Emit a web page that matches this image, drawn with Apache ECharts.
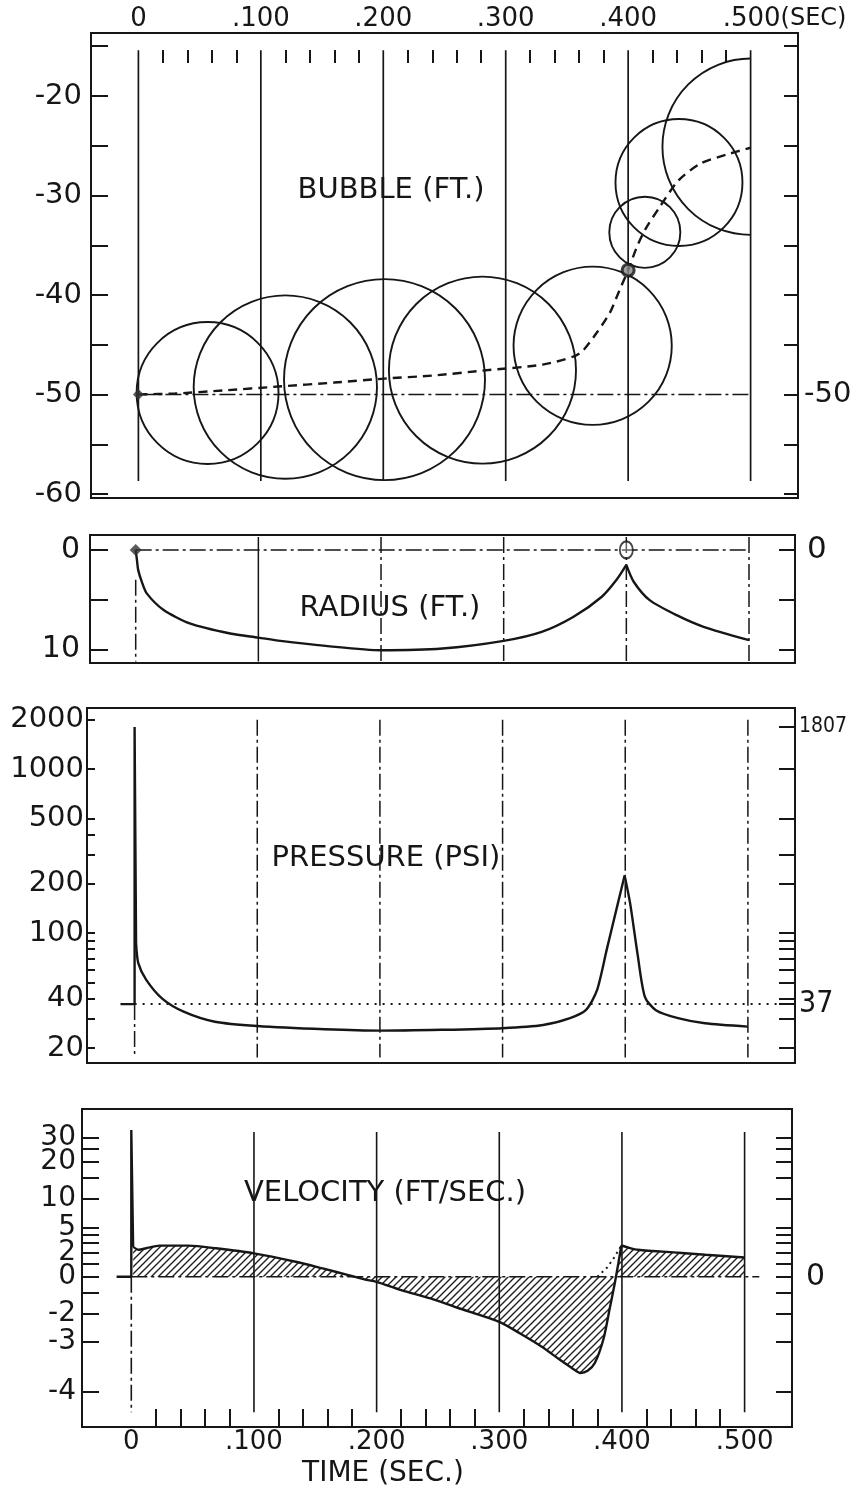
<!DOCTYPE html>
<html><head><meta charset="utf-8">
<script src="https://cdn.jsdelivr.net/npm/echarts@6/dist/echarts.min.js"></script>
<style>html,body{margin:0;padding:0;background:#fff}#c{width:851px;height:1486px}</style>
</head><body><div id="c"></div>
<script>
// ---------------- DATA ----------------
const TIME_MAJOR = [0, 0.1, 0.2, 0.3, 0.4, 0.5];
const TIME_LABELS = ['0', '.100', '.200', '.300', '.400', '.500'];
const TIME_UNIT = '(SEC)';
const TIME_TITLE = 'TIME (SEC.)';
const TIME_MINOR = [0.02,0.04,0.06,0.08,0.12,0.14,0.16,0.18,0.22,0.24,0.26,0.28,0.32,0.34,0.36,0.38,0.42,0.44,0.46,0.48];

// Bubble panel (depth, ft)
const DEPTH_LABELS = [-20, -30, -40, -50, -60];
const DEPTH_TICKS = [-15, -20, -25, -30, -35, -40, -45, -50, -55, -60];
const DEPTH_RIGHT_LABELS = [-50];
const START_DEPTH = -50;
const CENTER_T = [0, 0.03, 0.069, 0.114, 0.16, 0.201, 0.24, 0.281, 0.33, 0.355, 0.363, 0.374, 0.385, 0.393, 0.4, 0.407, 0.414, 0.4255, 0.441, 0.459, 0.48, 0.5];
const CENTER_Z = [-50, -49.9, -49.6, -49.2, -48.8, -48.4, -48.1, -47.6, -47.0, -46.2, -45.6, -43.85, -41.8, -39.5, -37.5, -35.2, -33.4, -31.2, -28.5, -26.8, -25.9, -25.2];
const BUBBLE_T = [0.0565, 0.12, 0.201, 0.281, 0.371, 0.4136, 0.4415, 0.5];
const BUBBLE_Z = [-49.85, -49.25, -48.5, -47.55, -45.1, -33.7, -28.7, -25.1];
const BUBBLE_R = [7.13, 9.21, 10.1, 9.4, 7.95, 3.57, 6.38, 8.86];
const MARK_T = [0, 0.4];

// Radius panel (ft)
const RADIUS_LABELS = [0, 10];
const RADIUS_TICKS = [0, 5, 10];
const RADIUS_RIGHT_LABELS = [0];
const RAD_T = [0, 0.001, 0.002, 0.005, 0.009, 0.0225, 0.044, 0.077, 0.1, 0.118, 0.155, 0.2, 0.25, 0.3, 0.331, 0.357, 0.38, 0.392, 0.4, 0.406, 0.419, 0.441, 0.463, 0.5];
const RAD_R = [0, 1.0, 2.0, 3.2, 4.36, 6.0, 7.38, 8.39, 8.8, 9.13, 9.63, 10.07, 9.9, 9.13, 8.23, 6.71, 4.7, 3.0, 1.5, 3.19, 5.04, 6.55, 7.72, 9.06];

// Pressure panel (psi, log)
const PRESSURE_LABELS = [20, 40, 100, 200, 500, 1000, 2000];
const PRESSURE_TICKS_L = [20, 30, 40, 50, 60, 70, 80, 90, 100, 200, 300, 400, 500, 1000, 2000];
const PRESSURE_TICKS_R = [20, 30, 37, 40, 50, 60, 70, 80, 90, 100, 200, 300, 500, 1000, 1807];
const PRESSURE_RIGHT_LABELS = [37, 1807];
const HYDROSTATIC = 37;
const PRES_T = [-0.0115, 0, 0, 0.0012, 0.003, 0.0095, 0.0225, 0.04, 0.0655, 0.1, 0.155, 0.2, 0.25, 0.3, 0.333, 0.355, 0.368, 0.377, 0.385, 0.394, 0.3995, 0.404, 0.41, 0.416, 0.425, 0.443, 0.465, 0.5];
const PRES_P = [37, 37, 1807, 87, 65.7, 52, 40, 33.3, 28.9, 27.2, 26, 25.5, 25.8, 26.4, 27.6, 30.4, 34.1, 45, 80, 152, 225, 152, 75, 41, 34, 30.4, 28.3, 27];

// Velocity panel (ft/sec, log of v+5)
const VELOCITY_LABELS = [30, 20, 10, 5, 2, 0, -2, -3, -4];
const VELOCITY_TICKS = [30, 25, 20, 15, 10, 5, 4, 3, 2, 1, 0, -1, -2, -3, -4];
const VELOCITY_RIGHT_LABELS = [0];
const VEL_T = [-0.012, 0, 0, 0.0015, 0.006, 0.012, 0.023, 0.047, 0.069, 0.1, 0.134, 0.156, 0.177, 0.19, 0.2, 0.22, 0.244, 0.266, 0.3, 0.317, 0.335, 0.348, 0.36, 0.366, 0.372, 0.378, 0.385, 0.39, 0.394, 0.397, 0.3995, 0.406, 0.413, 0.446, 0.468, 0.5];
const VEL_V = [0, 0, 34, 2.6, 2.3, 2.45, 2.73, 2.73, 2.45, 1.94, 1.17, 0.62, 0.12, -0.18, -0.34, -0.85, -1.31, -1.76, -2.34, -2.74, -3.13, -3.41, -3.62, -3.70, -3.66, -3.5, -2.9, -1.8, -0.5, 1.0, 2.75, 2.5, 2.3, 2.0, 1.8, 1.55];
const VEL_DOT_T = [0.380, 0.388, 0.394, 0.3995];
const VEL_DOT_V = [0, 0.7, 1.6, 2.75];

// ---------------- SETUP ----------------
const INK = '#161616';
const FONT = 'DejaVu Sans';
const FONT_NARROW = 'DejaVu Sans Condensed';
const DASHDOT = [16, 4, 3, 4];
const lg = v => Math.log10(v);
const VEL_SHIFT = 5;
const vs = v => Math.log10(v + VEL_SHIFT);

const PANELS = [
  { left: 91, right: 798, top: 33, bottom: 498, x0: 138.4, x5: 750.6 },
  { left: 90, right: 795, top: 535, bottom: 663, x0: 135.7, x5: 749 },
  { left: 87, right: 795, top: 708, bottom: 1063, x0: 134.6, x5: 747.9 },
  { left: 82, right: 792, top: 1109, bottom: 1427, x0: 131.3, x5: 744.6 }
];
const T_END = TIME_MAJOR[TIME_MAJOR.length - 1];
PANELS.forEach(p => {
  const k = (p.x5 - p.x0) / T_END;
  p.tmin = (p.left - p.x0) / k;
  p.tmax = (p.right - p.x0) / k;
});

const grid = PANELS.map(p => ({
  left: p.left, top: p.top, width: p.right - p.left, height: p.bottom - p.top,
  show: true, borderColor: INK, borderWidth: 2, backgroundColor: 'transparent',
  containLabel: false, outerBoundsMode: 'none'
}));

const tLabel = v => {
  const i = TIME_MAJOR.findIndex(t => Math.abs(t - v) < 1e-6);
  if (i < 0) return '';
  if (i === TIME_MAJOR.length - 1) return '{p|}{a|' + TIME_LABELS[i] + '}{b|' + TIME_UNIT + '}';
  return '{a|' + TIME_LABELS[i] + '}';
};
const timeRich = {
  a: { fontSize: 26, fontFamily: FONT, color: INK },
  b: { fontSize: 24, fontFamily: FONT, color: INK },
  p: { width: 68 }
};
function xAx(gi, extra) {
  const p = PANELS[gi];
  return Object.assign({
    type: 'value', gridIndex: gi, min: p.tmin, max: p.tmax,
    axisLine: { show: false, onZero: false }, splitLine: { show: false },
    axisTick: { show: false }, axisLabel: { show: false }
  }, extra || {});
}
const xAxis = [
  xAx(0, { position: 'top', axisLabel: { show: true, customValues: TIME_MAJOR, formatter: tLabel, rich: timeRich, margin: 1 } }),
  xAx(0, { position: 'top', offset: -17, axisTick: { show: true, inside: true, length: 13, customValues: TIME_MINOR, lineStyle: { color: INK, width: 2 } } }),
  xAx(1),
  xAx(2),
  xAx(3, { position: 'bottom',
    axisTick: { show: true, inside: true, length: 18, customValues: TIME_MINOR, lineStyle: { color: INK, width: 2 } },
    axisLabel: { show: true, customValues: TIME_MAJOR, formatter: v => tLabel(v).replace(/\{p\|\}|\{b\|[^}]*\}/g, ''), rich: timeRich, margin: 2 } })
];

function yAx(gi, pos, min, max, ticks, labels, fmt, opt) {
  opt = opt || {};
  return {
    type: 'value', gridIndex: gi, position: pos, min, max, inverse: !!opt.inverse,
    axisLine: { show: false, onZero: false }, splitLine: { show: false },
    axisTick: ticks ? { show: true, inside: true, length: opt.len || 16, customValues: ticks, lineStyle: { color: INK, width: 2 } } : { show: false },
    axisLabel: { show: true, customValues: labels, formatter: fmt, margin: opt.margin || 8,
      fontSize: opt.size || 29, fontFamily: FONT, color: INK }
  };
}
const fmtNum = v => String(Math.round(v * 100) / 100);
const fmtLog = v => String(Math.round(Math.pow(10, v)));
const fmtVel = v => String(Math.round(Math.pow(10, v) - VEL_SHIFT));
const VEL_MIN = vs(-4.39), VEL_MAX = vs(47.4);
const velA = VELOCITY_LABELS.filter((v, i) => i % 2 === 0);
const velB = VELOCITY_LABELS.filter((v, i) => i % 2 === 1);

const yAxis = [
  yAx(0, 'left', -60.4, -13.67, DEPTH_TICKS, DEPTH_LABELS, fmtNum, { len: 17, margin: 9 }),
  yAx(0, 'right', -60.4, -13.67, DEPTH_TICKS, DEPTH_RIGHT_LABELS, fmtNum, { len: 14, margin: 6 }),
  yAx(1, 'left', -1.5, 11.35, RADIUS_TICKS, RADIUS_LABELS, fmtNum, { inverse: true, len: 18, margin: 10, size: 30 }),
  yAx(1, 'right', -1.5, 11.35, RADIUS_TICKS, RADIUS_RIGHT_LABELS, fmtNum, { inverse: true, len: 16, margin: 12, size: 31 }),
  yAx(2, 'left', lg(16.2), lg(2355), PRESSURE_TICKS_L.map(lg), PRESSURE_LABELS.map(lg), fmtLog, { len: 8, margin: 3, size: 29 }),
  yAx(2, 'right', lg(16.2), lg(2355), PRESSURE_TICKS_R.map(lg), PRESSURE_RIGHT_LABELS.map(lg), fmtLog, { len: 16, margin: 4, size: 24 }),
  yAx(3, 'left', VEL_MIN, VEL_MAX, VELOCITY_TICKS.map(vs), velA.map(vs), fmtVel, { len: 17, margin: 6, size: 28 }),
  yAx(3, 'right', VEL_MIN, VEL_MAX, VELOCITY_TICKS.map(vs), VELOCITY_RIGHT_LABELS.map(vs), fmtVel, { len: 16, margin: 14, size: 30 }),
  yAx(3, 'left', VEL_MIN, VEL_MAX, null, velB.map(vs), fmtVel, { margin: 6, size: 28 })
];
yAxis[5].axisLabel.formatter = v => {
  const n = Math.round(Math.pow(10, v));
  return n === HYDROSTATIC ? '{big|' + n + '}' : '{sm|' + n + '}';
};
yAxis[5].axisLabel.rich = {
  big: { fontSize: 30, fontFamily: FONT_NARROW, color: INK },
  sm: { fontSize: 21, fontFamily: FONT_NARROW, color: INK }
};

function vlines(xi, yi, fromFn, toFn, dashFn, width) {
  return {
    type: 'custom', xAxisIndex: xi, yAxisIndex: yi, silent: true, z: 1,
    data: TIME_MAJOR.map(t => [t]),
    renderItem: (params, api) => {
      const t = api.value(0);
      const a = api.coord([t, fromFn(t)]), b = api.coord([t, toFn(t)]);
      return { type: 'line', shape: { x1: a[0], y1: a[1], x2: b[0], y2: b[1] },
        style: { stroke: INK, lineWidth: width || 1.6, lineDash: dashFn(t) } };
    }
  };
}
function seg(xi, yi, pts, type, width, z) {
  return { type: 'line', xAxisIndex: xi, yAxisIndex: yi, data: pts, symbol: 'none', silent: true,
    lineStyle: { color: INK, width: width || 1.5, type: type || 'solid' }, z: z || 2 };
}
function curve(xi, yi, T, V, fy, from, to, smooth, lineStyle) {
  const data = [];
  for (let i = from; i <= to; i++) data.push([T[i], fy(V[i])]);
  return { type: 'line', xAxisIndex: xi, yAxisIndex: yi, data, symbol: 'none', silent: true, z: 4,
    smooth: smooth || false,
    lineStyle: Object.assign({ color: INK, width: 2.4 }, lineStyle || {}) };
}
const id = v => v;
const argmaxFrom = (arr, from) => { let k = from; for (let i = from; i < arr.length; i++) if (arr[i] > arr[k]) k = i; return k; };
const argminFrom = (arr, from, to) => { let k = from; for (let i = from; i <= to; i++) if (arr[i] < arr[k]) k = i; return k; };

// hatch pattern
const hc = document.createElement('canvas');
hc.width = 7; hc.height = 7;
const g = hc.getContext('2d');
g.strokeStyle = '#1e1e1e'; g.lineWidth = 1.4; g.lineCap = 'square';
g.beginPath();
g.moveTo(-1, 8); g.lineTo(8, -1);
g.moveTo(-1, 1); g.lineTo(1, -1);
g.moveTo(6, 8); g.lineTo(8, 6);
g.stroke();
const HATCH = { image: hc, repeat: 'repeat' };

const markIdx = MARK_T.map(t => CENTER_T.findIndex(c => Math.abs(c - t) < 1e-6));
const velSpike = VEL_V.indexOf(Math.max(...VEL_V));
const velPeak = argmaxFrom(VEL_V, velSpike + 1);
const presSpike = PRES_P.indexOf(Math.max(...PRES_P));
const presPeak = argmaxFrom(PRES_P, presSpike + 1);
const radCusp = argminFrom(RAD_R, 8, RAD_R.length - 1);

const series = [
  // ---- bubble panel
  vlines(0, 0, () => -15.4, () => -58.7, () => null, 1.7),
  seg(0, 0, [[TIME_MAJOR[0], START_DEPTH], [T_END, START_DEPTH]], DASHDOT, 1.5),
  {
    type: 'custom', xAxisIndex: 0, yAxisIndex: 0, silent: true, z: 3,
    data: BUBBLE_T.map((t, i) => [t, BUBBLE_Z[i], BUBBLE_R[i]]),
    renderItem: (params, api) => {
      const c = api.coord([api.value(0), api.value(1)]);
      const r = api.size([0, api.value(2)])[1];
      const xEnd = api.coord([T_END, api.value(1)])[0];
      let s = 0, e = Math.PI * 2;
      if (c[0] + r > xEnd + 1) {
        const th = Math.acos(Math.max(-1, Math.min(1, (xEnd - c[0]) / r)));
        s = th; e = 2 * Math.PI - th;
      }
      return { type: 'arc', shape: { cx: c[0], cy: c[1], r: r, startAngle: s, endAngle: e, clockwise: true },
        style: { stroke: INK, fill: null, lineWidth: 1.9 } };
    }
  },
  curve(0, 0, CENTER_T, CENTER_Z, id, 0, CENTER_T.length - 1, 0.25, { type: [9, 6], width: 2.4 }),
  { type: 'scatter', xAxisIndex: 0, yAxisIndex: 0, data: [[CENTER_T[markIdx[0]], CENTER_Z[markIdx[0]]]], symbol: 'diamond', symbolSize: 11,
    itemStyle: { color: '#333' }, z: 5, silent: true },
  { type: 'scatter', xAxisIndex: 0, yAxisIndex: 0, data: [[CENTER_T[markIdx[1]], CENTER_Z[markIdx[1]]]], symbol: 'circle', symbolSize: 12,
    itemStyle: { color: '#888', borderColor: INK, borderWidth: 3 }, z: 5, silent: true },

  // ---- radius panel
  vlines(2, 2, t => (t === 0 ? 3 : -1.3), () => 11.2, t => (Math.abs(t - 0.1) < 1e-6 ? null : DASHDOT), 1.5),
  seg(2, 2, [[TIME_MAJOR[0], 0], [T_END, 0]], DASHDOT, 1.5),
  curve(2, 2, RAD_T, RAD_R, id, 0, radCusp, 0.25),
  curve(2, 2, RAD_T, RAD_R, id, radCusp, RAD_T.length - 1, 0.25),
  { type: 'scatter', xAxisIndex: 2, yAxisIndex: 2, data: [[RAD_T[0], 0]], symbol: 'diamond', symbolSize: 12,
    itemStyle: { color: '#333' }, z: 5, silent: true },
  { type: 'scatter', xAxisIndex: 2, yAxisIndex: 2, data: [[MARK_T[1], 0]], symbol: 'circle', symbolSize: [13, 17],
    itemStyle: { color: 'rgba(255,255,255,0.4)', borderColor: INK, borderWidth: 2 }, z: 5, silent: true },

  // ---- pressure panel
  vlines(3, 4, t => (t === 0 ? lg(HYDROSTATIC) : lg(2000)), () => lg(17.5), () => DASHDOT, 1.5),
  seg(3, 4, [[TIME_MAJOR[0], lg(HYDROSTATIC)], [PANELS[2].tmax, lg(HYDROSTATIC)]], [2, 6], 2),
  curve(3, 4, PRES_T, PRES_P, lg, 0, presSpike + 1, false),
  curve(3, 4, PRES_T, PRES_P, lg, presSpike + 1, presPeak, 0.25),
  curve(3, 4, PRES_T, PRES_P, lg, presPeak, PRES_T.length - 1, 0.25),

  // ---- velocity panel
  vlines(4, 6, t => (t === 0 ? vs(0) : vs(33)), () => vs(-4.25), t => (t === 0 ? DASHDOT : null), 1.6),
  seg(4, 6, [[TIME_MAJOR[0], vs(0)], [T_END + 0.012, vs(0)]], DASHDOT, 1.5),
  {
    type: 'custom', xAxisIndex: 4, yAxisIndex: 6, silent: true, z: 2,
    data: [[0]],
    renderItem: (params, api) => {
      const pts = [api.coord([VEL_T[velSpike + 1], vs(0)])];
      for (let i = velSpike + 1; i < VEL_T.length; i++) pts.push(api.coord([VEL_T[i], vs(VEL_V[i])]));
      pts.push(api.coord([VEL_T[VEL_T.length - 1], vs(0)]));
      return { type: 'polygon', shape: { points: pts }, style: { fill: HATCH, stroke: null } };
    }
  },
  curve(4, 6, VEL_T, VEL_V, vs, 0, velSpike + 1, false),
  curve(4, 6, VEL_T, VEL_V, vs, velSpike + 1, velPeak, 0.25),
  curve(4, 6, VEL_T, VEL_V, vs, velPeak, VEL_T.length - 1, 0.25),
  curve(4, 6, VEL_DOT_T, VEL_DOT_V, vs, 0, VEL_DOT_T.length - 1, false, { width: 2, type: [2, 4] })
];

const titleStyle = { fontSize: 29, fontFamily: FONT, color: INK, fontWeight: 'normal' };
const mkTitle = (text, x, y, size) => ({ text, left: x, top: y, textAlign: 'center', textVerticalAlign: 'middle',
  textStyle: Object.assign({}, titleStyle, size ? { fontSize: size } : {}) });

const option = {
  animation: false,
  backgroundColor: '#ffffff',
  title: [
    mkTitle('BUBBLE (FT.)', 386, 185),
    mkTitle('RADIUS (FT.)', 385, 603),
    mkTitle('PRESSURE (PSI)', 381, 853),
    mkTitle('VELOCITY (FT/SEC.)', 380, 1188),
    mkTitle(TIME_TITLE, 378, 1469, 28)
  ],
  grid, xAxis, yAxis, series
};
const chart = echarts.init(document.getElementById('c'), null, { renderer: 'canvas', width: 851, height: 1486 });
chart.setOption(option);
</script></body></html>
